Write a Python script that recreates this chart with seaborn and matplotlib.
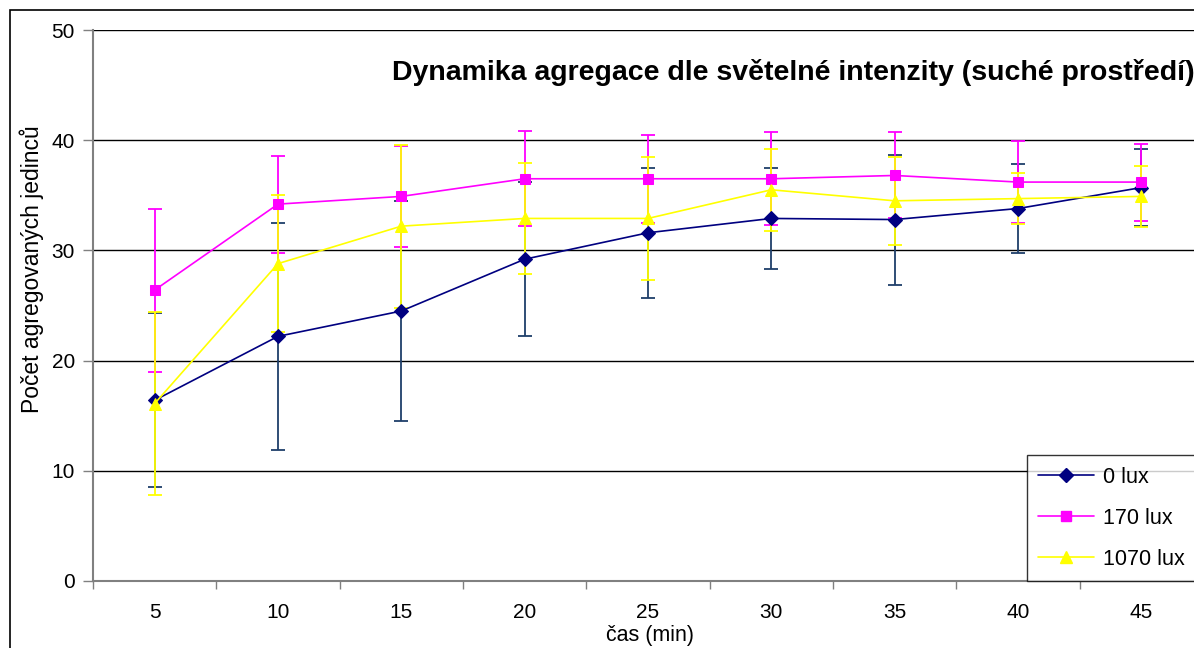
import matplotlib
matplotlib.use("Agg")
import matplotlib.pyplot as plt
import seaborn as sns
import pandas as pd
from matplotlib.patches import Rectangle

# Time points (minutes)
cas = ["5", "10", "15", "20", "25", "30", "35", "40", "45"]

# Mean number of aggregated individuals per light intensity
lux_0 = [16.4, 22.2, 24.5, 29.2, 31.6, 32.9, 32.8, 33.8, 35.7]
lux_170 = [26.4, 34.2, 34.9, 36.5, 36.5, 36.5, 36.8, 36.2, 36.2]
lux_1070 = [16.1, 28.8, 32.2, 32.9, 32.9, 35.5, 34.5, 34.7, 34.9]

# Standard deviations
sd_0 = [7.9, 10.3, 10.0, 7.0, 5.9, 4.6, 5.9, 4.0, 3.5]
sd_170 = [7.4, 4.4, 4.6, 4.3, 4.0, 4.2, 3.9, 3.7, 3.5]
sd_1070 = [8.3, 6.2, 7.4, 5.0, 5.6, 3.7, 4.0, 2.3, 2.8]

series_names = ["0 lux", "170 lux", "1070 lux"]

sns.set_theme(style="white")
plt.rcParams["font.family"] = ["Liberation Sans", "DejaVu Sans"]
plt.rcParams["text.color"] = "black"

W, H = 1194, 648
fig = plt.figure(figsize=(W / 100, H / 100), dpi=100)
fig.patch.set_facecolor("white")

# plot area in pixel coordinates
left, right, top, bottom = 93, 1203, 30, 581
ax = fig.add_axes([left / W, 1 - bottom / H, (right - left) / W, (bottom - top) / H])
ax.set_facecolor("white")

# outer chart border
fig.add_artist(Rectangle((10 / W, -0.1), 1.2, 1 - 10 / H + 0.1, transform=fig.transFigure,
                         fill=False, edgecolor="black", linewidth=1.2))

pos = list(range(len(cas)))
frame = pd.DataFrame({
    "pos": pos * 3,
    "value": lux_0 + lux_170 + lux_1070,
    "sd": sd_0 + sd_170 + sd_1070,
    "series": [s for s in series_names for _ in cas],
})

styles = {
    "0 lux": dict(color="#000080", marker="D", ms=7, err="#1F3F6A"),
    "170 lux": dict(color="#FF00FF", marker="s", ms=7.5, err="#FF00FF"),
    "1070 lux": dict(color="#FFFF00", marker="^", ms=8.5, err="#FFFF00"),
}

for i, name in enumerate(series_names):
    sub = frame[frame["series"] == name]
    st = styles[name]
    ax.errorbar(sub["pos"], sub["value"], yerr=sub["sd"], fmt="none",
                ecolor=st["err"], elinewidth=1.3, capsize=4.8, capthick=1.3,
                zorder=2 + i)
    sns.lineplot(data=sub, x="pos", y="value", color=st["color"], marker=st["marker"],
                 markersize=st["ms"], markeredgecolor=st["color"], linewidth=1.2,
                 label=name, ax=ax, zorder=5 + i, legend=False)

ax.set_xlim(-0.5, len(cas) - 0.5)
ax.set_ylim(0, 50)
ax.set_yticks([0, 10, 20, 30, 40, 50])
ax.yaxis.grid(True, color="black", linewidth=1.0)
ax.set_axisbelow(True)
ax.set_xticks(pos)
ax.set_xticklabels(cas)
ax.set_xticks([p + 0.5 for p in pos[:-1]] + [-0.5], minor=True)
ax.tick_params(axis="x", which="major", length=0, pad=16, labelsize=15, colors="black")
ax.tick_params(axis="x", which="minor", length=6, width=1, color="#808080", direction="out",
               bottom=True)
ax.tick_params(axis="y", length=7, width=1, color="#808080", direction="out", left=True,
               labelsize=15, labelcolor="black", pad=6)
for s in ["top", "right"]:
    ax.spines[s].set_visible(False)
ax.spines["left"].set_color("#808080")
ax.spines["bottom"].set_color("#808080")
ax.spines["left"].set_linewidth(1.5)
ax.spines["bottom"].set_linewidth(1.5)
ax.set_xlabel("")
ax.set_ylabel("")

fig.text(650 / W, 1 - 635 / H, "čas (min)", ha="center", va="center", fontsize=15.5,
         color="black")
fig.text(32 / W, 1 - 269 / H, "Počet agregovaných jedinců", ha="center", va="center",
         rotation=90, fontsize=16.5, color="black")
fig.text(392 / W, 1 - 73 / H, "Dynamika agregace dle světelné intenzity (suché prostředí)",
         ha="left", va="center", fontsize=20.5, fontweight="bold", color="black")

handles = [plt.Line2D([], [], color=styles[n]["color"], marker=styles[n]["marker"],
                      markersize=styles[n]["ms"], linewidth=1.2) for n in series_names]
leg = ax.legend(handles, series_names, loc="lower left",
                bbox_to_anchor=((1027 - left) / (right - left), 0, 0.3, 0.3),
                frameon=True, fancybox=False, edgecolor="black", fontsize=15.5,
                handlelength=2.6, handletextpad=0.4, labelspacing=0.93,
                borderpad=0.53, borderaxespad=0, labelcolor="black")
leg.get_frame().set_linewidth(1.0)

fig.savefig("out.png", dpi=100, facecolor="white")
